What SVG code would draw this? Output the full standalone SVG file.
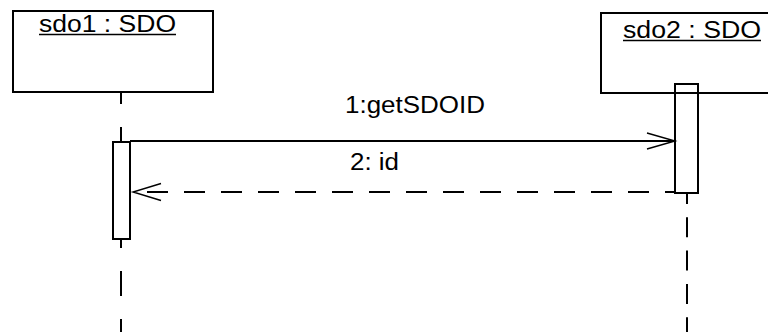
<svg xmlns="http://www.w3.org/2000/svg" width="768" height="332" viewBox="0 0 768 332">
<style>
.box{fill:#fff;stroke:#000;stroke-width:2}
.act{fill:none;stroke:#000;stroke-width:2}
.life{fill:none;stroke:#000;stroke-width:2}
.msg{fill:none;stroke:#000;stroke-width:2}
.head{fill:none;stroke:#000;stroke-width:1.4}
.lbl{font-family:"Liberation Sans",Arial,sans-serif;font-size:23px;fill:#000}
.ul{stroke:#000;stroke-width:1.5}
</style>
<rect width="768" height="332" fill="#fff"/>
<g id="connectors">
<path class="life" d="M121,92 V332" stroke-dasharray="25 23" stroke-dashoffset="13"/>
<path class="life" d="M687,193 V332" stroke-dasharray="20 13.3" stroke-dashoffset="9"/>
<path class="msg" d="M130,141 H675"/>
<polyline class="head" points="647,133 675,141 647,149"/>
<text class="lbl" x="345" y="113" textLength="140" lengthAdjust="spacingAndGlyphs">1:getSDOID</text>
<path class="msg" d="M675,192 H133" stroke-dasharray="21 16" stroke-dashoffset="11"/>
<polyline class="head" points="161,183.5 133,192 161,200.5"/>
<text class="lbl" x="350" y="170" textLength="49" lengthAdjust="spacingAndGlyphs">2: id</text>
</g>
<g id="sdo1">
<rect class="box" x="13" y="11" width="200" height="81"/>
<text class="lbl" x="39" y="31.5" textLength="137" lengthAdjust="spacingAndGlyphs">sdo1 : SDO</text>
<line class="ul" x1="39" y1="34.5" x2="176" y2="34.5"/>
<rect class="box" x="113" y="142" width="17" height="97"/>
</g>
<g id="sdo2">
<rect class="box" x="601" y="13" width="200" height="80"/>
<text class="lbl" x="623" y="37.5" textLength="138" lengthAdjust="spacingAndGlyphs">sdo2 : SDO</text>
<line class="ul" x1="623" y1="40.5" x2="761" y2="40.5"/>
<rect class="act" x="675" y="84" width="23" height="109"/>
</g>
</svg>
